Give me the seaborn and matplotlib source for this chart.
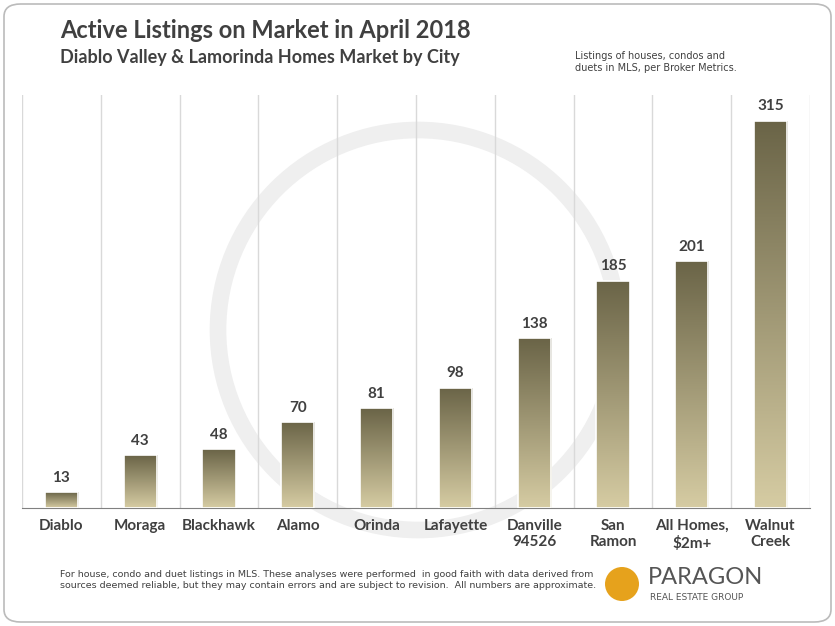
import matplotlib
matplotlib.use("Agg")
import matplotlib.pyplot as plt
import seaborn as sns
import numpy as np
import pandas as pd
from matplotlib.patches import Ellipse, FancyBboxPatch

cities = ["Diablo", "Moraga", "Blackhawk", "Alamo", "Orinda", "Lafayette",
          "Danville\n94526", "San\nRamon", "All Homes,\n$2m+", "Walnut\nCreek"]
listings = [13, 43, 48, 70, 81, 98, 138, 185, 201, 315]

df = pd.DataFrame({"city": cities, "n": listings})
W, H = 835, 626
fig = plt.figure(figsize=(W/100, H/100), dpi=100)
fig.patches.append(FancyBboxPatch((4/W, 4/H), 1-8/W, 1-8/H, boxstyle="round,pad=0,rounding_size=0.02",
                                  transform=fig.transFigure, fill=False, ec="#bbbbbb", lw=1.2))
# watermark
fig.patches.append(Ellipse((418/W, 1-330/H), 400/W, 400/H, transform=fig.transFigure, fill=False,
                          ec="#efefef", lw=12, zorder=-5))

ax = fig.add_axes([22/W, (H-508)/H, (810-22)/W, (508-95)/H])
ax.set_zorder(1)
ax.patch.set_alpha(0)
sns.barplot(data=df, x="city", y="n", ax=ax, color="#a39c78", width=0.42, zorder=2)
ax.set_ylim(0, 336)
ax.set_xlim(-0.5, len(cities)-0.5)
cmap = matplotlib.colors.LinearSegmentedColormap.from_list("g", ["#d6cca3", "#6a6447"])
grad = np.linspace(0, 1, 256).reshape(-1, 1)
for p in ax.patches:
    x0, w, h = p.get_x(), p.get_width(), p.get_height()
    im = ax.imshow(grad, extent=[x0, x0+w, 0, h], origin="lower", aspect="auto", cmap=cmap, zorder=3)
    im.set_clip_path(p)
    p.set_edgecolor("white"); p.set_linewidth(1.2); p.set_zorder(4); p.set_facecolor("none")
    ax.text(x0+w/2, h+6, f"{int(h)}", ha="center", va="bottom", fontsize=11, fontweight="bold",
            color="#404040", family="Lato")
for i in range(len(cities)+1):
    ax.axvline(i-0.5, color="#d9d9d9", lw=1, zorder=1)
for s in ["top", "right", "left"]:
    ax.spines[s].set_visible(False)
ax.spines["bottom"].set_color("#808080")
ax.set_yticks([])
ax.set_xlabel(""); ax.set_ylabel("")
ax.tick_params(axis="x", length=0, pad=8)
for t in ax.get_xticklabels():
    t.set_fontsize(11); t.set_fontweight("bold"); t.set_color("#404040"); t.set_family("Lato")
    t.set_va("top")

fig.text(60/W, 1-30/H, "Active Listings on Market in April 2018", fontsize=17, fontweight="bold",
         color="#404040", family="Lato", va="center")
fig.text(60/W, 1-58/H, "Diablo Valley & Lamorinda Homes Market by City", fontsize=13, fontweight="bold",
         color="#404040", family="Lato", va="center")
fig.text(575/W, 1-62/H, "Listings of houses, condos and\nduets in MLS, per Broker Metrics.", fontsize=7,
         color="#404040", va="center", linespacing=1.3)
fig.text(60/W, 1-580/H, "For house, condo and duet listings in MLS. These analyses were performed  in good faith with data derived from\n"
         "sources deemed reliable, but they may contain errors and are subject to revision.  All numbers are approximate.",
         fontsize=6.8, color="#404040", va="center", linespacing=1.4)
fig.patches.append(Ellipse((622/W, 1-584/H), 34/W, 34/H, transform=fig.transFigure, fc="#e6a21c", ec="none"))
fig.text(648/W, 1-578/H, "PARAGON", fontsize=17, color="#555555", va="center", family="Lato")
fig.text(650/W, 1-598/H, "REAL ESTATE GROUP", fontsize=6.5, color="#555555", va="center")
fig.savefig("out.png", dpi=100)
